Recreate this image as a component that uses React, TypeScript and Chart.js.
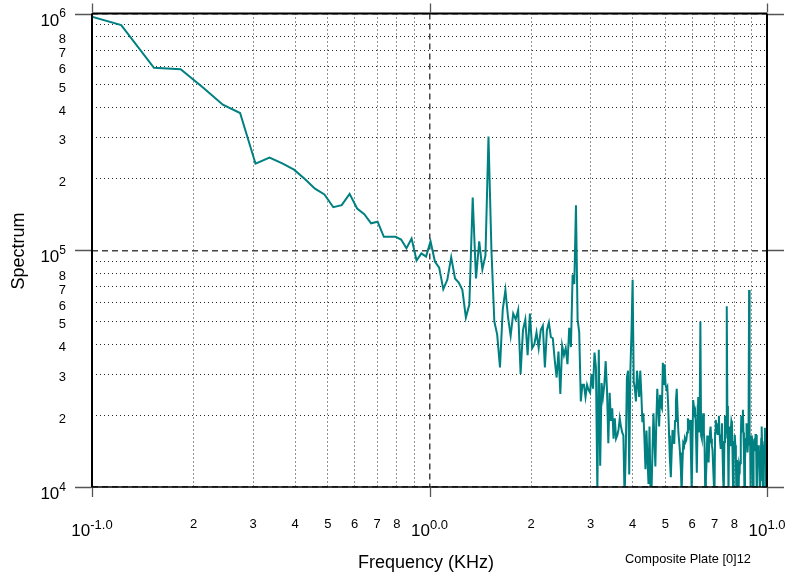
import React, { useEffect, useRef } from "react";
import { Chart, registerables } from "chart.js";

Chart.register(...registerables);

// Frequency bins (KHz): bin index * step
const FREQ_STEP_KHZ = 0.030518;
const FIRST_BIN = 3;

// Spectrum values in thousands, one per frequency bin starting at FIRST_BIN
const SPECTRUM_K: number[] = [
  1005, 893, 590, 582, 486, 412, 380, 232, 246, 233,
  219, 200, 182, 172, 152, 155, 173, 150, 142, 130,
  132, 114, 114, 114, 111, 102, 112, 90.5, 97, 94,
  109, 89.6, 84.5, 68.5, 75, 93.5, 76, 73, 68, 52,
  59, 167, 76, 109, 83, 95, 302, 100, 50, 44,
  32, 56, 68, 52, 43.5, 54, 51, 56, 30, 46,
  51, 36, 54, 38.6, 40, 45, 38.6, 46, 48, 32,
  46, 49.5, 43, 42.5, 34.4, 29, 37.3, 24.7, 39.5, 36,
  38.6, 33, 47, 39, 79, 72, 155, 51, 45, 23,
  27, 27, 24, 27, 25.7, 25, 30, 26, 37, 32,
  9.5, 38, 12.3, 27.5, 24, 27, 34, 25.7, 15.3, 25,
  19, 21.5, 16, 19.5, 16, 16.5, 17.5, 19.5, 18, 17,
  16.5, 9, 14, 29, 31, 11.3, 31, 45, 75, 28,
  26, 23, 31, 27, 24, 31, 25, 18.8, 20.5, 16,
  11.9, 17.3, 13, 10.3, 18, 9.8, 9.5, 14, 20.5, 16,
  12.2, 19, 26, 22, 18, 24.5, 22, 21.5, 33.5, 27,
  33, 27, 26, 26.5, 22, 16.5, 13, 11, 14, 17.4,
  16, 15.2, 19, 23, 26, 21, 17, 15.5, 14, 12,
  9.5, 12.5, 15.3, 15, 16, 15.5, 15.8, 17, 19.5, 18.5,
  17.4, 19.2, 14, 9.5, 15, 23.3, 23.3, 20.5, 21, 16,
  11.5, 18, 24, 17, 20, 50, 16.5, 16, 18, 20.5,
  17, 15.2, 9.3, 10.7, 13, 16.5, 14, 12.7, 15.5, 17,
  18, 16, 15, 14.3, 12, 10.3, 9.4, 17, 19.2, 18,
  17.5, 16.6, 18.5, 20, 17, 15.5, 14.5, 16.5, 18.6, 14,
  10.7, 9.6, 15.5, 20, 16, 18, 58, 22, 16.6, 9.2,
  17, 18, 15, 17.5, 19, 18.5, 14, 9.5, 14, 15.5,
  16.6, 15, 13, 9.0, 13, 12.2, 11.5, 9.4, 12.5, 12.2,
  12.6, 16, 20, 17, 19.5, 21.2, 17, 14, 9.2, 13,
  15, 16, 18.6, 17, 14, 16, 20, 68, 15, 16,
  9.5, 15.5, 16.5, 16, 15, 9.1, 14.8, 14.3, 15.5, 16,
  16.6, 16.6, 13, 9.3, 13, 14, 15, 14.3, 12.5, 9.4,
  10.7, 13, 16, 18, 15, 12.5, 9.2, 11.3, 13.5, 15.5,
  17.8, 15, 12.5, 9.0, 14, 17.5,
];

const X_MIN = 0.1;
const X_MAX = 10;
const Y_MIN = 1e4;
const Y_MAX = 1e6;

const X_GRID = [0.1, 0.2, 0.3, 0.4, 0.5, 0.6, 0.7, 0.8, 0.9, 1, 2, 3, 4, 5, 6, 7, 8, 9, 10];
const Y_GRID = [
  1e4, 2e4, 3e4, 4e4, 5e4, 6e4, 7e4, 8e4, 9e4,
  1e5, 2e5, 3e5, 4e5, 5e5, 6e5, 7e5, 8e5, 9e5, 1e6,
];

const X_MAJOR = [0.1, 1, 10];
const X_MAJOR_EXP = ["-1.0", "0.0", "1.0"];
const Y_MAJOR = [1e4, 1e5, 1e6];
const Y_MAJOR_EXP = ["4", "5", "6"];

const X_MINOR_LABELED = [0.2, 0.3, 0.4, 0.5, 0.6, 0.7, 0.8, 2, 3, 4, 5, 6, 7, 8];
const X_MINOR_TEXT = ["2", "3", "4", "5", "6", "7", "8", "2", "3", "4", "5", "6", "7", "8"];
const Y_MINOR_LABELED = [2e4, 3e4, 4e4, 5e4, 6e4, 7e4, 8e4, 2e5, 3e5, 4e5, 5e5, 6e5, 7e5, 8e5];
const Y_MINOR_TEXT = ["2", "3", "4", "5", "6", "7", "8", "2", "3", "4", "5", "6", "7", "8"];

const X_TITLE = "Frequency (KHz)";
const Y_TITLE = "Spectrum";
const NOTE = "Composite Plate [0]12";

const LINE_COLOR = "#008080";
const FONT = '"Liberation Sans", Arial, Helvetica, sans-serif';

const isMajor = (v: number) => Math.abs(Math.log10(v) - Math.round(Math.log10(v))) < 1e-6;

const decorPlugin = {
  id: "decor",
  afterDraw(chart: any) {
    const ctx: CanvasRenderingContext2D = chart.ctx;
    const xs = chart.scales.x;
    const ys = chart.scales.y;
    const { left, right, top, bottom } = chart.chartArea;
    ctx.save();

    // frame
    ctx.strokeStyle = "#000";
    ctx.lineWidth = 2;
    ctx.beginPath();
    ctx.moveTo(left, top);
    ctx.lineTo(right, top);
    ctx.moveTo(right, top);
    ctx.lineTo(right, bottom);
    ctx.moveTo(left, top);
    ctx.lineTo(left, bottom);
    ctx.stroke();
    ctx.lineWidth = 1.7;
    ctx.beginPath();
    ctx.moveTo(left - 1, bottom);
    ctx.lineTo(right + 1, bottom);
    ctx.stroke();

    // major tick marks (outside)
    ctx.strokeStyle = "#555";
    ctx.lineWidth = 1.3;
    ctx.beginPath();
    Y_MAJOR.forEach((v) => {
      const py = Math.round(ys.getPixelForValue(v)) + 0.5;
      ctx.moveTo(left - 17, py);
      ctx.lineTo(left - 1, py);
      ctx.moveTo(right + 1, py);
      ctx.lineTo(right + 17, py);
    });
    X_MAJOR.forEach((v) => {
      const px = Math.round(xs.getPixelForValue(v)) + 0.5;
      ctx.moveTo(px, bottom + 1);
      ctx.lineTo(px, bottom + 10);
      ctx.moveTo(px, top - 1);
      ctx.lineTo(px, top - 10);
    });
    ctx.stroke();

    ctx.fillStyle = "#000";
    // y minor labels
    ctx.font = `13px ${FONT}`;
    ctx.textAlign = "right";
    ctx.textBaseline = "alphabetic";
    Y_MINOR_LABELED.forEach((v, i) => {
      const py = ys.getPixelForValue(v);
      ctx.fillText(Y_MINOR_TEXT[i], 66, py + 6.8);
    });
    // x minor labels
    ctx.textAlign = "center";
    X_MINOR_LABELED.forEach((v, i) => {
      const px = xs.getPixelForValue(v);
      ctx.fillText(X_MINOR_TEXT[i], px, 528);
    });

    // y major labels 10^n
    ctx.textAlign = "left";
    Y_MAJOR.forEach((v, i) => {
      const py = ys.getPixelForValue(v);
      ctx.font = `17px ${FONT}`;
      const wb = ctx.measureText("10").width;
      ctx.font = `12px ${FONT}`;
      const we = ctx.measureText(Y_MAJOR_EXP[i]).width;
      const x0 = 66 - wb - we;
      ctx.font = `17px ${FONT}`;
      ctx.fillText("10", x0, py + 12);
      ctx.font = `12px ${FONT}`;
      ctx.fillText(Y_MAJOR_EXP[i], x0 + wb, py + 3.5);
    });

    // x major labels 10^n
    X_MAJOR.forEach((v, i) => {
      const px = xs.getPixelForValue(v);
      ctx.font = `17px ${FONT}`;
      const wb = ctx.measureText("10").width;
      ctx.font = `13px ${FONT}`;
      const we = ctx.measureText(X_MAJOR_EXP[i]).width;
      const x0 = px - (wb + we) / 2;
      ctx.font = `17px ${FONT}`;
      ctx.fillText("10", x0, 536);
      ctx.font = `13px ${FONT}`;
      ctx.fillText(X_MAJOR_EXP[i], x0 + wb, 529);
    });

    // titles
    ctx.font = `18px ${FONT}`;
    ctx.textAlign = "center";
    ctx.fillText(X_TITLE, 426, 568);
    ctx.save();
    ctx.translate(24, 251);
    ctx.rotate(-Math.PI / 2);
    ctx.fillText(Y_TITLE, 0, 0);
    ctx.restore();

    ctx.font = `12.8px ${FONT}`;
    ctx.textAlign = "left";
    ctx.fillText(NOTE, 625, 562.5);

    ctx.restore();
  },
};

export default function App() {
  const canvasRef = useRef<HTMLCanvasElement | null>(null);

  useEffect(() => {
    document.body.style.margin = "0";
    const canvas = canvasRef.current;
    if (!canvas) return;
    const points = SPECTRUM_K.map((v, k) => ({
      x: (FIRST_BIN + k) * FREQ_STEP_KHZ,
      y: v * 1000,
    }));

    const gridColor = (c: any) => (isMajor(c.tick.value) ? "#444" : "rgba(0,0,0,0.85)");
    const gridWidth = (c: any) => (isMajor(c.tick.value) ? 1.5 : 1);
    const gridDash = (c: any) =>
      c.tick && isMajor(c.tick.value) ? [6, 4] : [1, 3];

    const chart = new Chart(canvas, {
      type: "line",
      data: {
        datasets: [
          {
            data: points,
            borderColor: LINE_COLOR,
            borderWidth: 2,
            pointRadius: 0,
            tension: 0,
            fill: false,
            clip: 0 as any,
          },
        ],
      },
      options: {
        responsive: false,
        animation: false,
        devicePixelRatio: 1,
        parsing: true,
        layout: { padding: { left: 0, right: 18, top: 13.5, bottom: 0 } },
        plugins: {
          legend: { display: false },
          tooltip: { enabled: false },
          title: { display: false },
        },
        scales: {
          x: {
            type: "logarithmic",
            min: X_MIN,
            max: X_MAX,
            afterBuildTicks: (s: any) => {
              s.ticks = X_GRID.map((v) => ({ value: v }));
            },
            afterFit: (s: any) => {
              s.height = 92;
            },
            ticks: { display: false },
            grid: {
              color: gridColor,
              lineWidth: gridWidth,
              drawTicks: false,
            },
            border: { display: false, dash: gridDash as any },
          },
          y: {
            type: "logarithmic",
            min: Y_MIN,
            max: Y_MAX,
            afterBuildTicks: (s: any) => {
              s.ticks = Y_GRID.map((v) => ({ value: v }));
            },
            afterFit: (s: any) => {
              s.width = 92;
            },
            ticks: { display: false },
            grid: {
              color: gridColor,
              lineWidth: gridWidth,
              drawTicks: false,
            },
            border: { display: false, dash: gridDash as any },
          },
        },
      },
      plugins: [decorPlugin],
    });
    return () => chart.destroy();
  }, []);

  return (
    <canvas
      ref={canvasRef}
      width={785}
      height={579}
      style={{ display: "block", width: 785, height: 579 }}
    />
  );
}
